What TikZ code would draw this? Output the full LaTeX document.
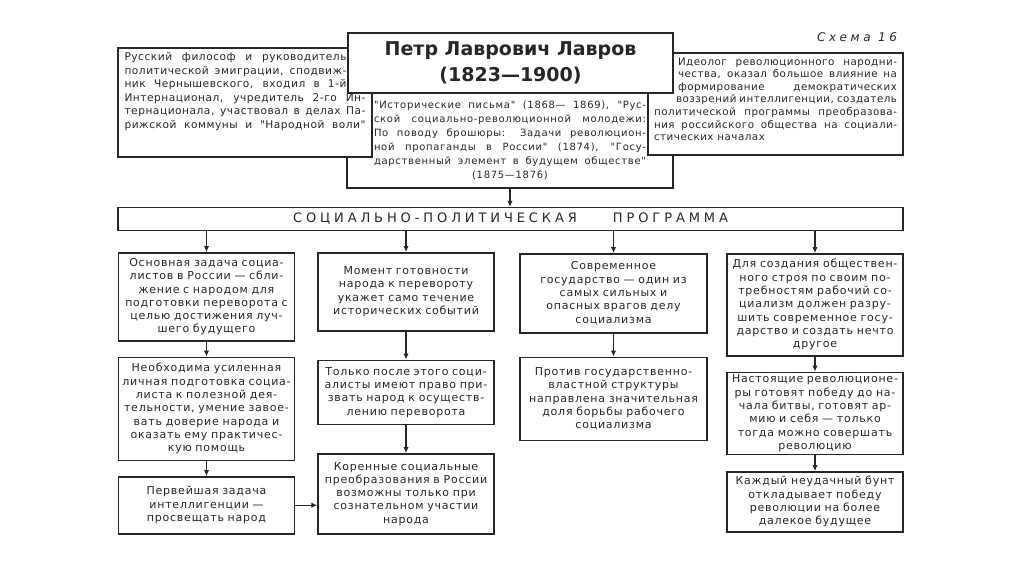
\documentclass[tikz,border=0pt]{standalone}
\usepackage{fontspec}
\setmainfont{DejaVu Sans}
\newfontfamily\boxfont[LetterSpace=7]{DejaVu Sans}
\newfontfamily\sidefont[LetterSpace=5]{DejaVu Sans}
\newfontfamily\spacedfont[LetterSpace=30]{DejaVu Sans}
\usetikzlibrary{arrows.meta, positioning}
\colorlet{ink}{black!85}
\newcommand{\jl}[2]{\hbox to #1{#2}}
\tikzset{
  box/.style   ={draw=ink, line width=1.5pt, fill=white, align=center,
                 text width=172pt, inner xsep=2pt, inner ysep=2pt, text=ink,
                 font=\boxfont\fontsize{11}{13.3}\selectfont},
  wide/.style  ={text width=183pt},
  panel/.style ={draw=ink, line width=1.5pt, fill=white, inner xsep=5pt,
                 inner ysep=4.5pt, text=ink,
                 font=\sidefont\fontsize{10.6}{13.6}\selectfont},
  arr/.style   ={-{Latex[length=6pt, width=5.5pt]}, line width=1.1pt, draw=ink},
}

\begin{document}
\begin{tikzpicture}[x=1pt, y=-1pt]
  \useasboundingbox (0,0) rectangle (1024,574);

  % header
  \node[panel, minimum width=326pt, minimum height=95pt,
        font=\boxfont\fontsize{10}{14}\selectfont] (works) at (510,140.5)
    {\parbox{272pt}{\parfillskip=0pt
     "Исторические письма" (1868— 1869), "Рус-\linebreak
     ской социально-революционной молодежи:\linebreak
     По поводу брошюры: Задачи революцион-\linebreak
     ной пропаганды в России" (1874), "Госу-\linebreak
     дарственный элемент в будущем обществе"\par
     \hspace*{\fill}(1875—1876)\hspace*{\fill}}};
  \node[panel, minimum width=254pt, minimum height=109pt] (bio) at (245,102.5)
    {\parbox[c][100pt][t]{243pt}{%
     \jl{222pt}{Русский философ и руководитель}
     \jl{222pt}{политической эмиграции, сподвиж-}
     \jl{222pt}{ник Чернышевского, входил в 1-й}
     \jl{241pt}{Интернационал, учредитель 2-го Ин-}
     \jl{241pt}{тернационала, участвовал в делах Па-}
     \jl{241pt}{рижской коммуны и "Народной воли"}}};
  \node[panel, minimum width=255pt, minimum height=102pt,
        font=\sidefont\fontsize{10.3}{12.6}\selectfont] (role) at (775.5,104)
    {\parbox[c][93pt][t]{245pt}{%
     \jl{243pt}{\hskip24pt Идеолог революционного народни-}
     \jl{243pt}{\hskip24pt чества, оказал большое влияние на}
     \jl{243pt}{\hskip24pt формирование демократических}
     \jl{243pt}{\hskip22pt воззрений интеллигенции, создатель}
     \jl{243pt}{политической программы преобразова-}
     \jl{243pt}{ния российского общества на социали-}
     \hbox{стических началах}}};
  \node[panel, minimum width=325pt, minimum height=60pt, align=center,
        font=\bfseries\fontsize{19}{26}\selectfont] (title) at (510.5,63)
    {Петр Лаврович Лавров\\(1823—1900)};
  \node[text=ink, font=\spacedfont\itshape\fontsize{12}{14}\selectfont] (schema)
    at (857,37) {Схема 16};

  % program
  \node[draw=ink, line width=1.5pt, minimum width=785pt, minimum height=23pt,
        inner sep=0pt, text=ink, font=\spacedfont\fontsize{13}{15}\selectfont]
    (prog) at (510.5,219) {СОЦИАЛЬНО-ПОЛИТИЧЕСКАЯ\hspace{36pt}ПРОГРАММА};
  \draw[arr] (works.south) -- (works.south |- prog.north);

  % column 1
  \node[box, minimum height=88pt, anchor=north] (a1) at (206.5,252)
    {Основная задача социа-\\листов в России — сбли-\\жение с народом для\\подготовки переворота с\\целью достижения луч-\\шего будущего};
  \node[box, minimum height=103pt, below=15pt of a1] (a2)
    {Необходима усиленная\\личная подготовка социа-\\листа к полезной дея-\\тельности, умение завое-\\вать доверие народа и\\оказать ему практичес-\\кую помощь};
  \node[box, minimum height=57pt, below=15pt of a2] (a3)
    {Первейшая задача\\интеллигенции —\\просвещать народ};

  % column 2
  \node[box, minimum height=78pt, anchor=north] (b1) at (406,252)
    {Момент готовности\\народа к перевороту\\укажет само течение\\исторических событий};
  \node[box, minimum height=64pt, below=28pt of b1] (b2)
    {Только после этого соци-\\алисты имеют право при-\\звать народ к осуществ-\\лению переворота};
  \node[box, minimum height=80pt, below=28pt of b2] (b3)
    {Коренные социальные\\преобразования в России\\возможны только при\\сознательном участии\\народа};

  % column 3
  \node[box, wide, minimum height=79pt, anchor=north] (c1) at (613.5,253)
    {Современное\\государство — один из\\самых сильных и\\опасных врагов делу\\социализма};
  \node[box, wide, minimum height=83pt, below=23pt of c1] (c2)
    {Против государственно-\\властной структуры\\направлена значительная\\доля борьбы рабочего\\социализма};

  % column 4
  \node[box, minimum height=102pt, anchor=north] (d1) at (815,253)
    {Для создания обществен-\\ного строя по своим по-\\требностям рабочий со-\\циализм должен разру-\\шить современное госу-\\дарство и создать нечто\\другое};
  \node[box, minimum height=82pt, below=15pt of d1] (d2)
    {Настоящие революционе-\\ры готовят победу до на-\\чала битвы, готовят ар-\\мию и себя — только\\тогда можно совершать\\революцию};
  \node[box, minimum height=60pt, below=16pt of d2] (d3)
    {Каждый неудачный бунт\\откладывает победу\\революции на более\\далекое будущее};

  % arrows
  \foreach \c in {a1,b1,c1,d1}
    \draw[arr] (\c.north |- prog.south) -- (\c.north);
  \draw[arr] (a1) -- (a2); \draw[arr] (a2) -- (a3);
  \draw[arr] (b1) -- (b2); \draw[arr] (b2) -- (b3);
  \draw[arr] (c1) -- (c2);
  \draw[arr] (d1) -- (d2); \draw[arr] (d2) -- (d3);
  \draw[arr] (a3.east) -- (a3.east -| b3.west);
\end{tikzpicture}
\end{document}
